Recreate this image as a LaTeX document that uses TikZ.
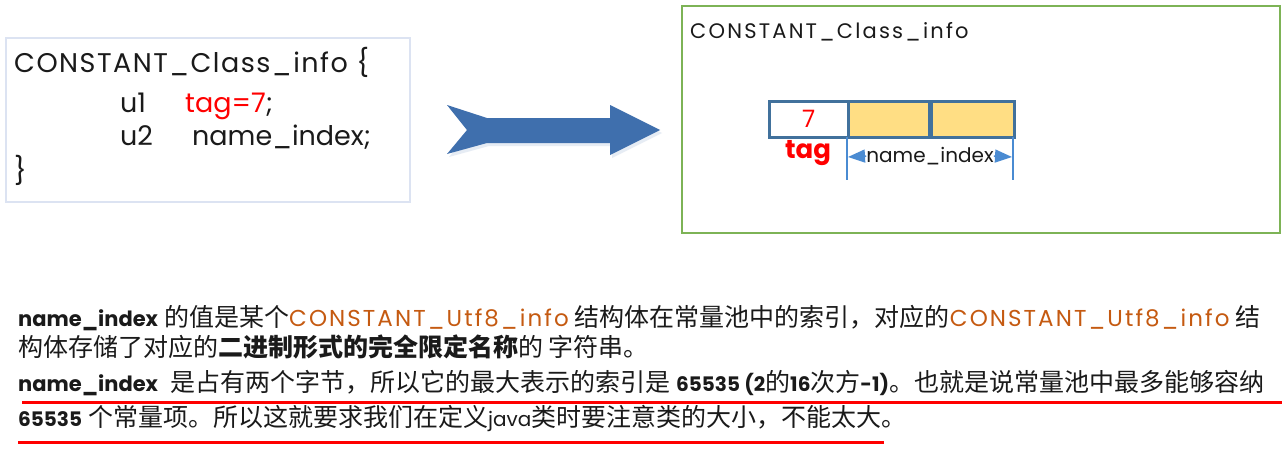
\documentclass[tikz,border=0pt]{standalone}
\usepackage{fontspec}
\setmainfont{Poppins}
\newfontfamily\cjkfont{Noto Sans CJK SC}
\usetikzlibrary{arrows.meta}
\definecolor{boxblue}{HTML}{DCE3F2}
\definecolor{boxgreen}{HTML}{7DB356}
\definecolor{arrowblue}{HTML}{3F6FAD}
\definecolor{cellblue}{HTML}{41719C}
\definecolor{cellyellow}{HTML}{FFDE84}
\definecolor{dimblue}{HTML}{4A8BD2}
\definecolor{orangetxt}{HTML}{C55A11}
\definecolor{txt}{HTML}{1A1A1A}
\definecolor{redtxt}{HTML}{FF0000}
\newcommand\zhtxt[1]{{\cjkfont\fontsize{25}{25}\selectfont #1}}
\newcommand\zhbold[1]{{\cjkfont\bfseries\fontsize{25}{25}\selectfont #1}}
\newcommand\bname[1]{{\bfseries\fontsize{21}{21}\selectfont #1}}
\newcommand\bnum[1]{{\bfseries\fontsize{20}{20}\selectfont #1}}
\newcommand\orangeword[1]{{\color{orangetxt}\addfontfeature{LetterSpace=9}#1}}
\tikzset{
  codetext/.style={anchor=base west, inner sep=0pt, text=txt, font=\fontsize{27}{27}\selectfont},
  titletext/.style={anchor=base west, inner sep=0pt, text=txt, font=\fontsize{21}{21}\selectfont\addfontfeature{LetterSpace=10.5}},
  bodytext/.style={anchor=base west, inner sep=0pt, text=txt, font=\fontsize{23}{23}\selectfont},
  cellbox/.style={draw=cellblue, line width=2.5pt, minimum width=79pt, minimum height=36pt, inner sep=0pt, anchor=north west},
  dimline/.style={draw=dimblue, line width=1.5pt},
  redline/.style={draw=redtxt, line width=3pt},
}
\begin{document}
\begin{tikzpicture}[x=1pt,y=-1pt]
\useasboundingbox (0,0) rectangle (1288,450);
\fill[white] (0,0) rectangle (1288,450);

% left code box
\node[draw=boxblue, line width=1.5pt, minimum width=404pt, minimum height=164pt, anchor=north west, inner sep=0pt] (codebox) at (5,37) {};
\node[codetext] (c1) at (14,72) {\addfontfeature{LetterSpace=5.5}CONSTANT\_Class\_info \{};
\node[codetext] (c2a) at (120,112) {u1};
\node[codetext] (c2b) at (185,112) {\textcolor{redtxt}{tag=7};};
\node[codetext] (c3a) at (120,145) {u2};
\node[codetext] (c3b) at (192,145) {name\_index;};
\node[codetext] (c4) at (14,180) {\}};

% big arrow
\fill[arrowblue!25, opacity=0.5] (449,108) -- (489,121) -- (612,121) -- (612,108) -- (662,133) -- (612,158) -- (612,146) -- (489,146) -- (449,157) -- (469,133) -- cycle;
\fill[arrowblue] (447,105) -- (487,118) -- (610,118) -- (610,105) -- (660,130) -- (610,155) -- (610,143) -- (487,143) -- (447,154) -- (467,130) -- cycle;

% right box
\node[draw=boxgreen, line width=2pt, minimum width=598pt, minimum height=227pt, anchor=north west, inner sep=0pt] (infobox) at (681,5) {};
\node[titletext] (title) at (690,38) {CONSTANT\_Class\_info};

\node[cellbox, fill=white, minimum width=79pt] (tagcell) at (768,100) {};
\node[cellbox, fill=cellyellow, minimum width=81pt] (idx1) at (847,100) {};
\node[cellbox, fill=cellyellow, minimum width=83pt] (idx2) at (930,100) {};
\node[text=redtxt, inner sep=0pt, font=\fontsize{24}{24}\selectfont] (seven) at (tagcell.center) {7};
\node[text=redtxt, inner sep=0pt, font=\bfseries\fontsize{26}{26}\selectfont] (taglbl) at (808,153) {tag};

\coordinate (dl0) at (847,137);
\coordinate (dl1) at (847,180);
\coordinate (dr0) at (1013,137);
\coordinate (dr1) at (1013,180);
\draw[dimline] (dl0) -- (dl1);
\draw[dimline] (dr0) -- (dr1);
\node[inner sep=0pt, text=txt, font=\fontsize{20}{20}\selectfont] (idxlbl) at (930,156) {name\_index};
\coordinate (al) at (848,157);
\coordinate (ar) at (1012,157);
\draw[dimline, -{Triangle[length=17pt,width=13pt]}] (idxlbl.west) -- (al);
\draw[dimline, -{Triangle[length=17pt,width=13pt]}] (idxlbl.east) -- (ar);

% bottom text
\node[bodytext] (t1) at (18,326) {\bname{name\_index} \zhtxt{的值是某个}\orangeword{CONSTANT\_Utf8\_info} \zhtxt{结构体在常量池中的索引，对应的}\orangeword{CONSTANT\_Utf8\_info} \zhtxt{结}};
\node[bodytext] (t2) at (18,356) {\zhtxt{构体存储了对应的}\zhbold{二进制形式的完全限定名称}\zhtxt{的 字符串。}};
\node[bodytext] (t3) at (18,391) {\bname{name\_index}\hspace{12pt}\zhtxt{是占有两个字节，所以它的最大表示的索引是} \bnum{65535 (2}\zhtxt{的}\bnum{16}\zhtxt{次方}\bnum{-1)}\zhtxt{。也就是说常量池中最多能够容纳}};
\node[bodytext] (t4) at (18,426) {\bnum{65535} \zhtxt{个常量项。所以这就要求我们在定义}{\fontsize{20}{20}\selectfont java}\zhtxt{类时要注意类的大小，不能太大。}};

\coordinate (r1a) at (22,402);
\coordinate (r1b) at (1282,402);
\coordinate (r2a) at (18,442);
\coordinate (r2b) at (884,442);
\draw[redline] (r1a) -- (r1b);
\draw[redline] (r2a) -- (r2b);
\end{tikzpicture}
\end{document}
